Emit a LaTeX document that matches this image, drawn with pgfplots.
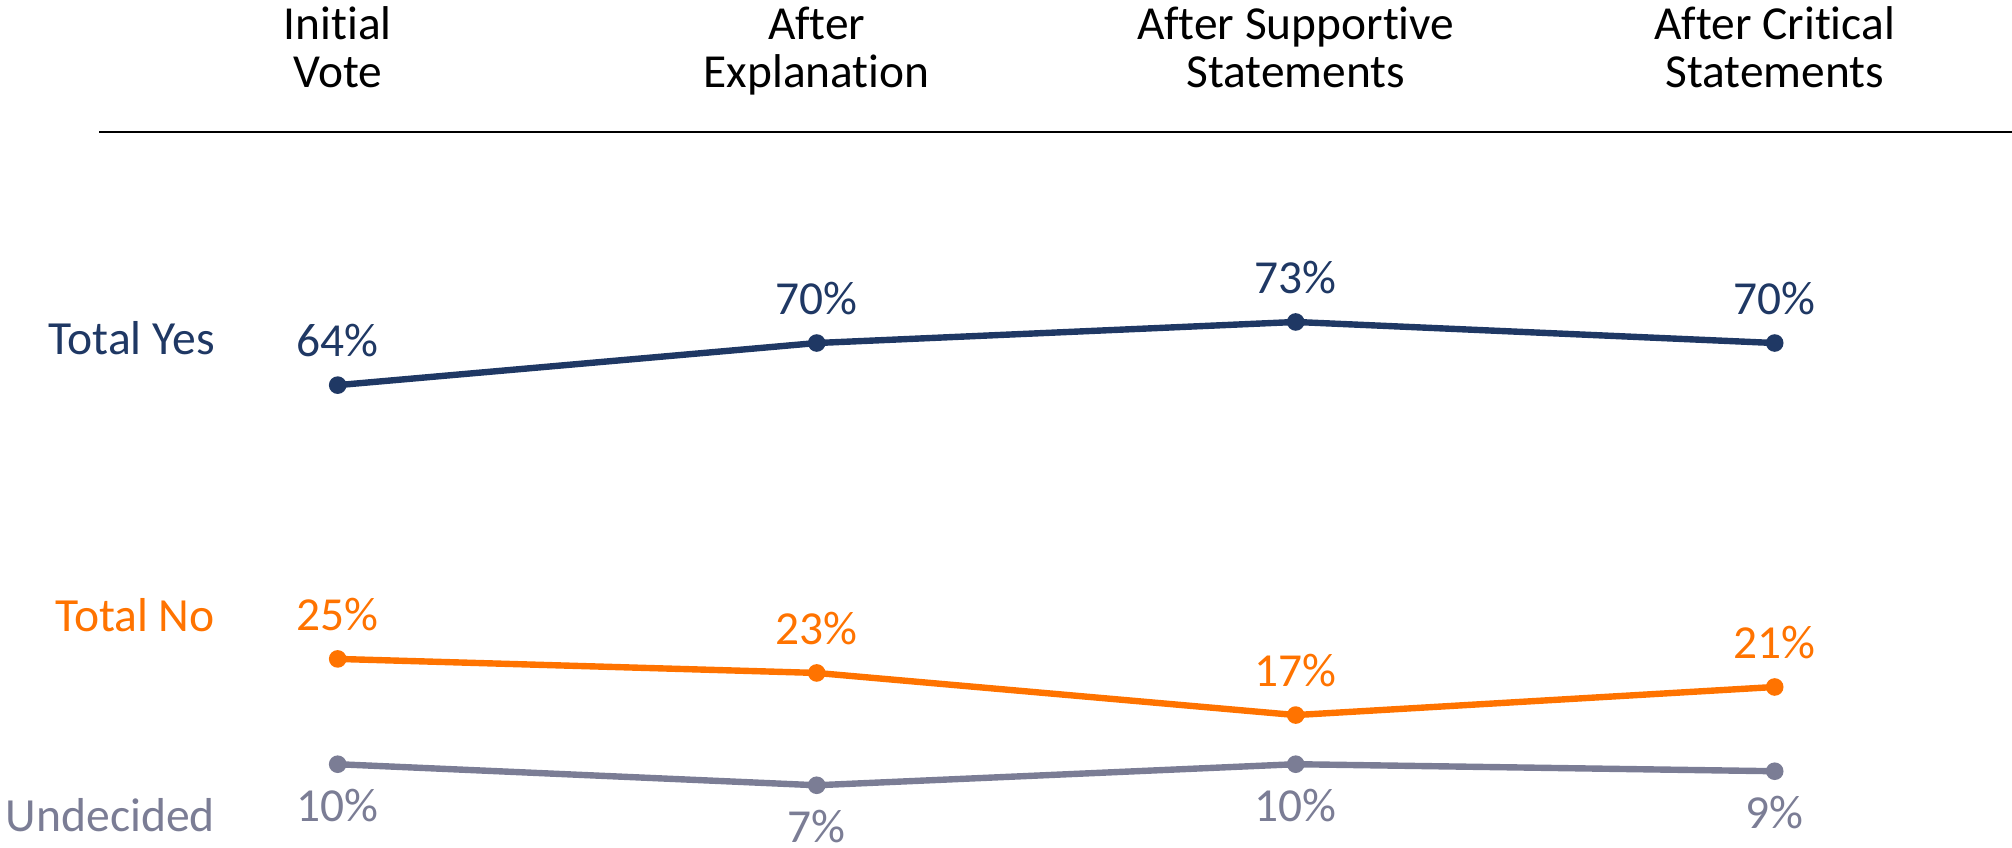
\documentclass[border=0pt]{standalone}
\usepackage{pgfplots}
\pgfplotsset{compat=1.18}
\usepackage{fontspec}
\setmainfont[Ligatures=NoCommon]{Carlito}
\definecolor{cyes}{RGB}{31,56,100}
\definecolor{cno}{RGB}{255,115,0}
\definecolor{cund}{RGB}{123,125,149}
\newcommand{\valfont}{\fontsize{11.85pt}{12pt}\selectfont}
\newcommand{\serfont}{\fontsize{11.9pt}{12pt}\selectfont}
\begin{document}
\begin{tikzpicture}
\begin{axis}[
  scale only axis, width=478.2pt, height=175.5pt,
  xmin=-0.4977, xmax=3.4954, ymin=0, ymax=100,
  axis y line=none, axis x line=top,
  x axis line style={-, line width=0.5pt, black},
  xtick={0,1,2,3},
  xticklabels={Initial\\Vote, After\\Explanation, After Supportive\\Statements, After Critical\\Statements},
  xticklabel style={font=\fontsize{11.85pt}{12pt}\selectfont, align=center, anchor=south, text depth=0pt, inner sep=0pt, yshift=11pt},
  major tick length=0pt,
  clip=false,
  point meta=explicit symbolic,
  nodes near coords,
]
\addplot[cyes, line width=1.6pt, mark=*, mark size=2pt, mark options={line width=0.4pt},
  every node near coord/.append style={anchor=center, inner sep=0pt, yshift=11.2pt, font=\valfont, text=cyes}]
  coordinates {(0,64)[64\%] (1,70)[70\%] (2,73)[73\%] (3,70)[70\%]};
\addplot[cno, line width=1.6pt, mark=*, mark size=2pt, mark options={line width=0.4pt},
  every node near coord/.append style={anchor=center, inner sep=0pt, yshift=11.2pt, font=\valfont, text=cno}]
  coordinates {(0,25)[25\%] (1,23)[23\%] (2,17)[17\%] (3,21)[21\%]};
\addplot[cund, line width=1.6pt, mark=*, mark size=2pt, mark options={line width=0.4pt},
  every node near coord/.append style={anchor=center, inner sep=0pt, yshift=-10.3pt, font=\valfont, text=cund}]
  coordinates {(0,10)[10\%] (1,7)[7\%] (2,10)[10\%] (3,9)[9\%]};
\node[anchor=east, inner sep=0pt, font=\serfont, text=cyes] at (axis cs:-0.255,70.7) {Total Yes};
\node[anchor=east, inner sep=0pt, font=\serfont, text=cno] at (axis cs:-0.255,31.3) {Total No};
\node[anchor=east, inner sep=0pt, font=\serfont, text=cund] at (axis cs:-0.255,2.8) {Undecided};
\coordinate (bl) at (axis cs:-0.705,-1.92);
\coordinate (tr) at (axis cs:3.4954,118.87);
\end{axis}
\pgfresetboundingbox
\useasboundingbox (bl) rectangle (tr);
\end{tikzpicture}
\end{document}
